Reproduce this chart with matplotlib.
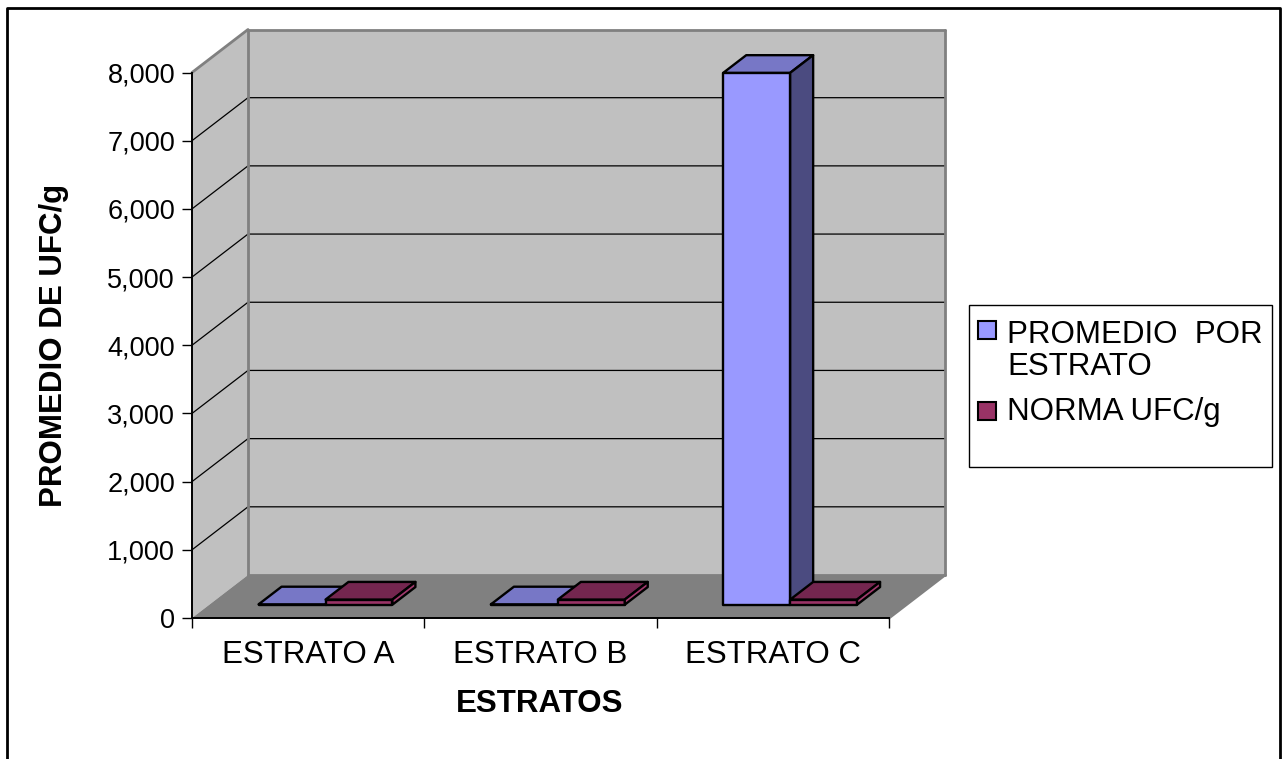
import matplotlib.pyplot as plt
from matplotlib.patches import Rectangle
from matplotlib.lines import Line2D

plt.rcParams['font.family'] = ['Liberation Sans', 'DejaVu Sans']

estratos = ["ESTRATO A", "ESTRATO B", "ESTRATO C"]
promedio = [5, 5, 7800]
norma = [75, 75, 75]
series_names = ["PROMEDIO  POR\nESTRATO", "NORMA UFC/g"]
yticks = [0, 1000, 2000, 3000, 4000, 5000, 6000, 7000, 8000]
ytick_labels = [f"{v:,}" for v in yticks]

# face colours: front, top, side
colores = [("#9999FF", "#7777C6", "#4B4B80"),
           ("#993366", "#74264F", "#A23A6E")]

W, H = 1285, 759
fig = plt.figure(figsize=(W / 100, H / 100), dpi=100)
ax = fig.add_axes([192 / W, 141 / H, 697 / W, 545.5 / H])
ax.set_xlim(0, 3)
ax.set_ylim(0, 8000)
ax.patch.set_visible(False)

# oblique depth vector in data units
DX = 56 / (697 / 3)
DY = 43 / (545.5 / 8000)


def pt(x, y, z):
    return x + z * DX, y + z * DY


def face(pts, fc, ec="none", lw=0, z=1):
    xs, ys = zip(*[pt(*p) for p in pts])
    ax.fill(xs, ys, facecolor=fc, edgecolor=ec, linewidth=lw,
            clip_on=False, zorder=z, joinstyle="round")


def edge(p0, p1, color="#808080", lw=2, z=1.5):
    (x0, y0), (x1, y1) = pt(*p0), pt(*p1)
    ax.plot([x0, x1], [y0, y1], color=color, lw=lw, clip_on=False,
            zorder=z, solid_capstyle="round")


ymax = yticks[-1]
# walls and floor
face([(0, 0, 0), (0, ymax, 0), (0, ymax, 1), (0, 0, 1)], "#C0C0C0", z=0)
face([(0, 0, 1), (3, 0, 1), (3, ymax, 1), (0, ymax, 1)], "#C0C0C0", z=0)
face([(0, 0, 0), (3, 0, 0), (3, 0, 1), (0, 0, 1)], "#808080", z=0.5)

# gridlines on side and back walls
for v in yticks[1:-1]:
    x0, y0 = pt(0, v, 0)
    x1, y1 = pt(0, v, 1)
    x2, y2 = pt(3, v, 1)
    ax.plot([x0, x1, x2], [y0, y1, y2], color="black", lw=0.9,
            clip_on=False, zorder=1)

edge((0, ymax, 0), (0, ymax, 1))
edge((0, ymax, 1), (3, ymax, 1))
edge((0, 0, 1), (0, ymax, 1))
edge((3, 0, 1), (3, ymax, 1))
edge((3, 0, 0), (3, 0, 1))
edge((0, 0, 1), (3, 0, 1))

# 3D columns
bw = 0.288
z0, z1 = 0.31, 0.72
for i in range(len(estratos)):
    c = i + 0.5
    for s, vals in enumerate([promedio, norma]):
        v = vals[i]
        xa = c - bw if s == 0 else c
        xb = xa + bw
        front, top, side = colores[s]
        kw = dict(ec="black", lw=1.7, z=3 + s)
        face([(xa, 0, z0), (xb, 0, z0), (xb, v, z0), (xa, v, z0)], front, **kw)
        face([(xa, v, z0), (xb, v, z0), (xb, v, z1), (xa, v, z1)], top, **kw)
        face([(xb, 0, z0), (xb, 0, z1), (xb, v, z1), (xb, v, z0)], side, **kw)

# axes
for s in ["top", "right"]:
    ax.spines[s].set_visible(False)
for s in ["left", "bottom"]:
    ax.spines[s].set_linewidth(1.4)
    ax.spines[s].set_color("black")

ax.set_yticks(yticks, ytick_labels, fontsize=19.5)
ax.tick_params(axis="y", length=7.2, width=1, pad=5, direction="out")
ax.set_xticks([0, 1, 2, 3], ["", "", "", ""])
ax.tick_params(axis="x", which="major", length=7.2, width=1, direction="out")
ax.set_xticks([0.5, 1.5, 2.5], estratos, minor=True, fontsize=22.5)
ax.tick_params(axis="x", which="minor", length=0, pad=16)

fig.text(54 / W, 1 - 345 / H, "PROMEDIO DE UFC/g", rotation=90,
         ha="center", va="center", fontsize=22.5, fontweight="bold")
fig.text(540 / W, 1 - 704 / H, "ESTRATOS", ha="center", va="center",
         fontsize=22.5, fontweight="bold")

# legend
fig.add_artist(Rectangle((969 / W, 1 - 467 / H), 303 / W, 162 / H,
                         transform=fig.transFigure, facecolor="white",
                         edgecolor="black", lw=1))
y_sq = [321, 402]
y_txt = [343, 420]
for s, name in enumerate(series_names):
    fig.add_artist(Rectangle((978 / W, 1 - (y_sq[s] + 18) / H), 18 / W, 18 / H,
                             transform=fig.transFigure,
                             facecolor=colores[s][0], edgecolor="black", lw=1.5))
    for k, line in enumerate(name.split("\n")):
        fig.text(1007 / W, 1 - (y_txt[s] + 32 * k) / H, line,
                 ha="left", va="baseline", fontsize=22.5)

# chart area border
fig.add_artist(Line2D([7 / W, 7 / W, 1280 / W, 1280 / W],
                      [0, 1 - 8 / H, 1 - 8 / H, 0],
                      transform=fig.transFigure, color="black", lw=2))

fig.savefig("out.png", dpi=100)
